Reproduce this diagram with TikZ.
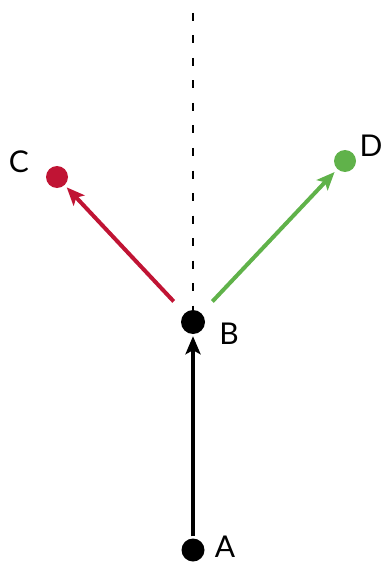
\documentclass[tikz,border=0pt]{standalone}
\usepackage{fontspec}
\setmainfont{Lato}
\usetikzlibrary{arrows.meta}
\definecolor{cred}{RGB}{192,20,52}
\definecolor{cgreen}{RGB}{96,178,74}
\begin{document}
\begin{tikzpicture}[x=1pt,y=-1pt,
  dot/.style={circle,fill=#1,inner sep=0pt,minimum size=22pt},
  lab/.style={font=\fontsize{30}{30}\selectfont,inner sep=0pt},
  arr/.style={line width=4pt,-{Stealth[length=18pt,width=15pt,inset=4pt]}}]
\useasboundingbox (0,0) rectangle (382,564);
\node[dot=black,minimum size=23pt] (A) at (193,550) {};
\node[dot=black,minimum size=24pt] (B) at (193,322) {};
\node[dot=cred] (C) at (57,177) {};
\node[dot=cgreen] (D) at (345,161) {};
\node[lab] (la) at (225,547) {A};
\node[lab] (lb) at (229,334) {B};
\node[lab] (lc) at (19,162) {C};
\node[lab] (ld) at (371,146) {D};
\coordinate (top) at (193,13);
\draw[line width=2.6pt,dash pattern=on 8pt off 14.5pt] (top) -- ([yshift=-20pt]B.north);
\draw[arr,shorten <=2pt,shorten >=2pt] (A) -- (B);
\draw[arr,cred,shorten <=16pt,shorten >=3pt] (B) -- (C);
\draw[arr,cgreen,shorten <=16pt,shorten >=4pt] (B) -- (D);
\end{tikzpicture}
\end{document}
